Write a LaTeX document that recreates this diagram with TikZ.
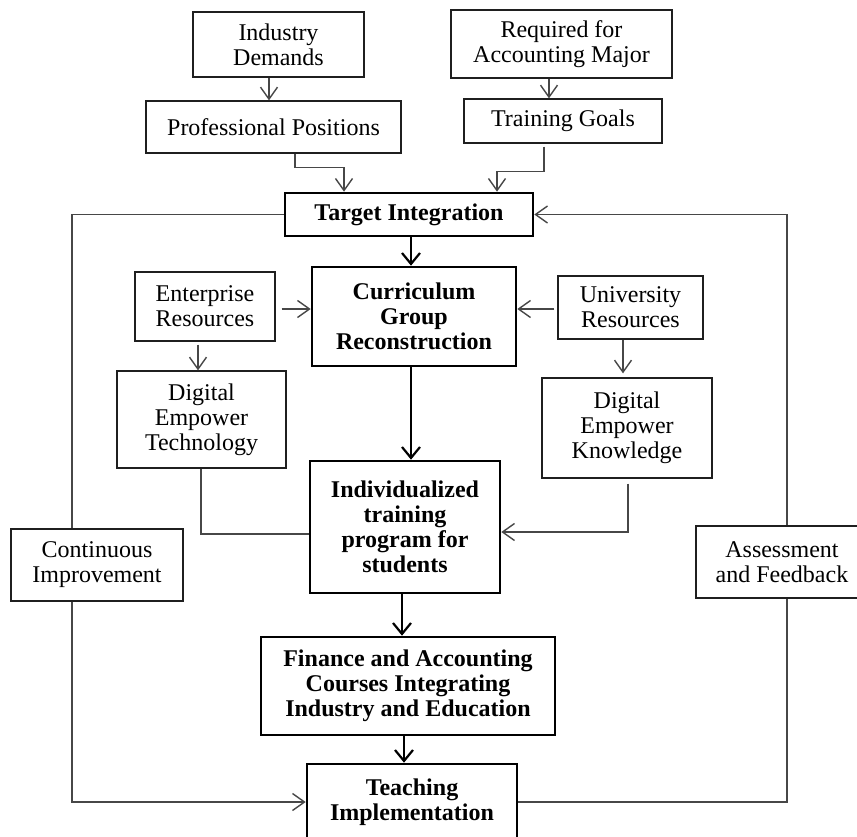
\documentclass[tikz,border=0pt]{standalone}
\usepackage{fontspec}
\setmainfont{Liberation Serif}
\usetikzlibrary{arrows.meta}
\begin{document}
\begin{tikzpicture}[x=1pt,y=-1pt,
 box/.style={draw=black!88, line width=1.3pt, align=center, inner sep=1pt, font=\fontsize{24}{25}\selectfont},
 bbox/.style={box, draw=black, line width=2.6pt, font=\fontsize{24}{25}\selectfont\bfseries},
 ln/.style={draw=black!72, line width=1.4pt},
 arr/.style={ln, -{Straight Barb[length=12pt,width=17pt,line width=1.4pt]}},
 barr/.style={draw=black, line width=2.2pt, -{Straight Barb[length=11pt,width=18pt,line width=2.2pt]}}]
\clip (0,0) rectangle (857,836);
\fill[white] (0,0) rectangle (857,836);
% nodes
\node[box, minimum width=171pt, minimum height=65pt] (indus) at (278.5,44.5) {Industry\\Demands};
\node[box, minimum width=221pt, minimum height=68pt] (req) at (561.5,44) {Required for\\Accounting Major};
\node[box, minimum width=255pt, minimum height=52pt] (prof) at (273.5,127) {Professional Positions};
\node[box, minimum width=198pt, minimum height=44pt] (goals) at (563,121) {Training Goals};
\node[bbox, minimum width=248pt, minimum height=43pt] (target) at (409,214.5) {Target Integration};
\node[box, minimum width=140pt, minimum height=69pt] (ent) at (205,306.5) {Enterprise\\Resources};
\node[bbox, minimum width=204pt, minimum height=99pt] (curr) at (414,316.5) {Curriculum\\Group\\Reconstruction};
\node[box, minimum width=145pt, minimum height=63pt] (uni) at (630.5,307.5) {University\\Resources};
\node[box, minimum width=169pt, minimum height=97pt] (det) at (201.5,419.5) {Digital\\Empower\\Technology};
\node[box, minimum width=170pt, minimum height=100pt] (dek) at (627,428) {Digital\\Empower\\Knowledge};
\node[bbox, minimum width=190pt, minimum height=132pt] (indiv) at (405,527) {Individualized\\training\\program for\\students};
\node[box, minimum width=172pt, minimum height=72pt] (cont) at (97,565) {Continuous\\Improvement};
\node[box, minimum width=172pt, minimum height=72pt] (assess) at (782,562) {Assessment\\and Feedback};
\node[bbox, minimum width=294pt, minimum height=98pt] (fin) at (408,686) {Finance and Accounting\\Courses Integrating\\Industry and Education};
\node[bbox, minimum width=210pt, minimum height=76pt] (teach) at (412,802) {Teaching\\Implementation};
% connectors
\draw[arr] ([xshift=-9.5pt]indus.south) -- ([xshift=-9.5pt]indus.south |- prof.north);
\draw[arr] ([xshift=-12.5pt]req.south) -- ([xshift=-12.5pt]req.south |- goals.north);
\draw[arr] ([xshift=21.5pt]prof.south) -- ++(0,14) -| ([xshift=-65pt]target.north);
\draw[arr] ([xshift=-19pt,yshift=-3pt]goals.south) -- ++(0,25) -| ([xshift=88pt]target.north);
\draw[barr] ([xshift=2pt]target.south) -- ([xshift=2pt]target.south |- curr.north);
\draw[arr] ([xshift=6pt,yshift=-2.5pt]ent.east) -- ([yshift=-2.5pt]ent.east -| curr.west);
\draw[arr] ([xshift=-3pt,yshift=-1.5pt]uni.west) -- ([yshift=-1.5pt]uni.west -| curr.east);
\draw[arr] ([xshift=-7pt,yshift=-3pt]ent.south) -- ([xshift=-7pt]ent.south |- det.north);
\draw[arr] ([xshift=-7.5pt]uni.south) -- ([xshift=-7.5pt,yshift=4pt]uni.south |- dek.north);
\draw[barr] ([xshift=-3pt]curr.south) -- ([xshift=-3pt]curr.south |- indiv.north);
\draw[ln] ([xshift=-0.5pt]det.south) |- ([yshift=-7pt]indiv.west);
\draw[arr] ([xshift=1pt,yshift=-5pt]dek.south) |- ([yshift=-5pt]indiv.east);
\draw[barr] ([xshift=-3pt]indiv.south) -- ([xshift=-3pt]indiv.south |- fin.north);
\draw[barr] ([xshift=-4pt]fin.south) -- ([xshift=-4pt]fin.south |- teach.north);
\draw[ln] (target.west) -| ([xshift=-25pt]cont.north);
\draw[arr] ([xshift=-25pt]cont.south) |- (teach.west);
\draw[ln] (teach.east) -| ([xshift=5pt]assess.south);
\draw[arr] ([xshift=5pt]assess.north) |- (target.east);
\end{tikzpicture}
\end{document}
